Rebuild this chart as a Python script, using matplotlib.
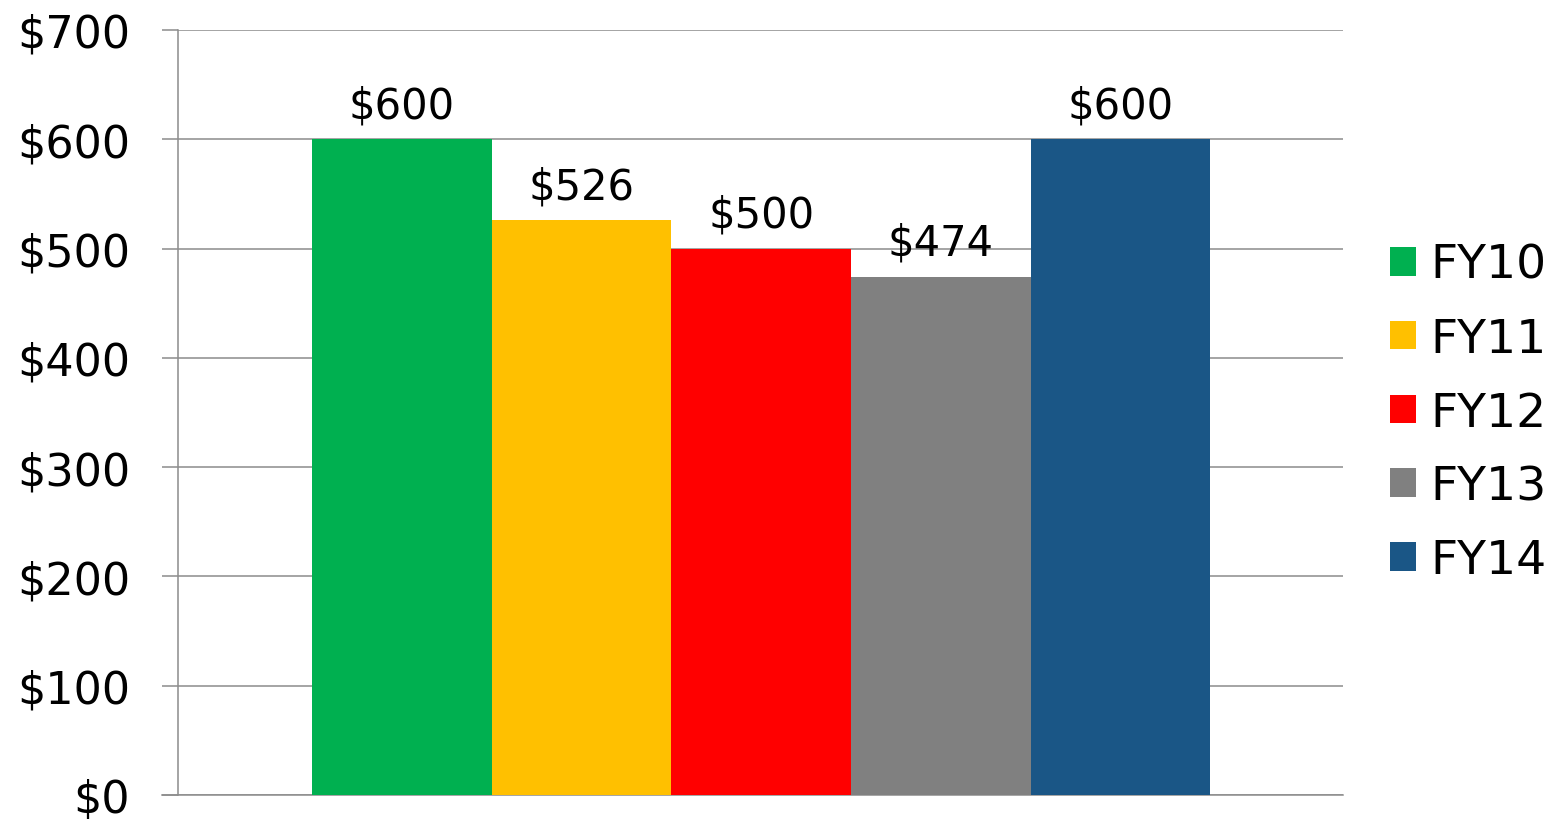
import matplotlib
matplotlib.use("Agg")
import matplotlib.pyplot as plt
from matplotlib.patches import Patch

# ── data ──
years = ["FY10", "FY11", "FY12", "FY13", "FY14"]
values = [600, 526, 500, 474, 600]
colors = ["#00B050", "#FFC000", "#FF0000", "#808080", "#1A5686"]
y_ticks = [0, 100, 200, 300, 400, 500, 600, 700]

GRID = "#8C8C8C"

fig = plt.figure(figsize=(15.6, 8.2), dpi=100)
ax = fig.add_axes([0.1141, 0.0293, 0.7468, 0.9329])

xs = list(range(len(years)))
ax.bar(xs, values, width=1.0, color=colors, zorder=3, linewidth=0)

for x, v in zip(xs, values):
    ax.text(x, v + 12, f"${v}", ha="center", va="bottom", fontsize=30, color="black")

ax.set_xlim(-1.247, 5.24)
ax.set_ylim(0, 700)
ax.set_yticks(y_ticks)
ax.set_yticklabels([f"${t}" for t in y_ticks], fontsize=32)
ax.set_xticks([])

ax.yaxis.grid(True, color=GRID, linewidth=1.1, zorder=0)
ax.tick_params(axis="y", length=11.5, width=1.1, color=GRID, pad=23)
for side in ["top", "right"]:
    ax.spines[side].set_visible(False)
for side in ["left", "bottom"]:
    ax.spines[side].set_color(GRID)
    ax.spines[side].set_linewidth(1.1)
ax.spines["bottom"].set_bounds(-1.247 - 16 / 179.5, 5.24)

handles = [Patch(facecolor=c, label=y) for c, y in zip(colors, years)]
ax.legend(handles=handles, loc="center left", bbox_to_anchor=(0.891, 0.495),
          bbox_transform=fig.transFigure, frameon=False, fontsize=34,
          handlelength=0.55, handleheight=0.55, handletextpad=0.3,
          labelspacing=0.61, borderaxespad=0, borderpad=0)

fig.savefig("out.png", dpi=100)
